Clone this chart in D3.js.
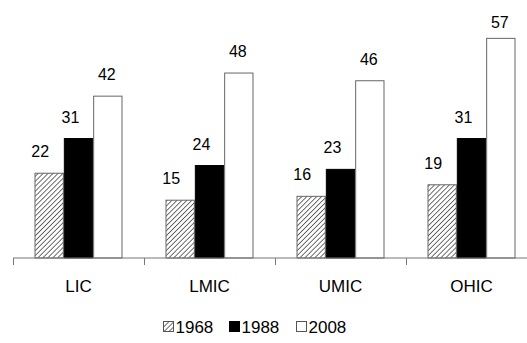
<!DOCTYPE html>
<html><head><meta charset="utf-8">
<script src="https://cdn.jsdelivr.net/npm/d3@7"></script>
<style>body{margin:0;background:#fff}svg{display:block}text{font-family:"Liberation Sans",Arial,sans-serif;fill:#000}</style>
</head><body><svg id="c" width="527" height="343"></svg>
<script>
const categories = ["LIC","LMIC","UMIC","OHIC"];
const seriesNames = ["1968","1988","2008"];
const values1968 = [22,15,16,19];
const values1988 = [31,24,23,31];
const values2008 = [42,48,46,57];
const allSeries = [values1968, values1988, values2008];

const svg = d3.select("#c");
const defs = svg.append("defs");
const pat = defs.append("pattern").attr("id","hatch").attr("patternUnits","userSpaceOnUse")
  .attr("width",3.5).attr("height",3.5).attr("patternTransform","rotate(45)");
pat.append("rect").attr("width",3.5).attr("height",3.5).attr("fill","#fff");
pat.append("line").attr("x1",0).attr("y1",0).attr("x2",0).attr("y2",3.5).attr("stroke","#222").attr("stroke-width",1.3);

const baseY = 258;
const x0 = d3.scaleBand().domain(categories).range([13, 13 + 4*131]).padding(0);
const x1 = d3.scaleBand().domain(seriesNames).range([0, x0.bandwidth()]).paddingInner(0).paddingOuter(0.733);
const y = d3.scaleLinear().domain([0,60]).range([baseY, 26.8]);

const fills = ["url(#hatch)","#000","#fff"];
const strokes = ["#666","#000","#666"];
const labelDx = [-9,-8,-1];

const groups = svg.selectAll("g.cat").data(categories).join("g")
  .attr("transform", d => `translate(${x0(d)},0)`);

seriesNames.forEach((s, si) => {
  groups.append("rect")
    .attr("x", x1(s) + 0.5)
    .attr("width", x1.bandwidth() - 1)
    .attr("y", (d,i) => y(allSeries[si][i]))
    .attr("height", (d,i) => baseY - y(allSeries[si][i]))
    .attr("fill", fills[si]).attr("stroke", strokes[si]).attr("stroke-width",1);
  groups.append("text")
    .attr("x", x1(s) + x1.bandwidth()/2 + labelDx[si])
    .attr("y", (d,i) => Math.max(y(allSeries[si][i]) - 16, 27.5))
    .attr("text-anchor","middle").attr("font-size",16)
    .text((d,i) => allSeries[si][i]);
});

// axis
const ax = svg.append("g").attr("transform",`translate(0,${baseY})`);
ax.append("line").attr("x1",13).attr("x2",527).attr("y1",0).attr("y2",0).attr("stroke","#777");
ax.selectAll("line.tk").data(categories).join("line").attr("class","tk")
  .attr("x1", d => Math.round(x0(d))+0.5).attr("x2", d => Math.round(x0(d))+0.5)
  .attr("y1",0).attr("y2",7).attr("stroke","#777");
ax.selectAll("text.cl").data(categories).join("text").attr("class","cl")
  .attr("x", d => x0(d) + x0.bandwidth()/2).attr("y", 34)
  .attr("text-anchor","middle").attr("font-size",17).text(d => d);

// legend
const legendX = [163, 229, 296];
const leg = svg.append("g");
seriesNames.forEach((s, si) => {
  leg.append("rect").attr("x", legendX[si]+0.5).attr("y", 321.5).attr("width",10).attr("height",10)
    .attr("fill", fills[si]).attr("stroke", si===1?"#000":"#555");
  leg.append("text").attr("x", legendX[si]+12.5).attr("y", 333).attr("font-size",17).text(s);
});
</script></body></html>
